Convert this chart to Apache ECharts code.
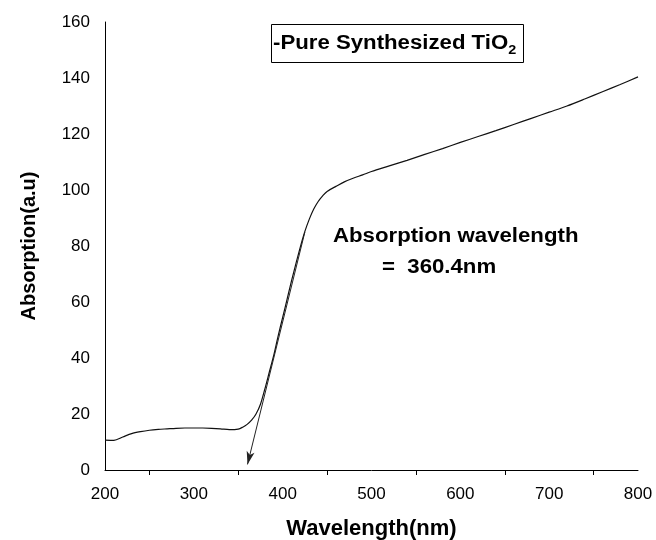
<!DOCTYPE html>
<html>
<head>
<meta charset="utf-8">
<script src="https://cdn.jsdelivr.net/npm/echarts@6/dist/echarts.min.js"></script>
<style>
  html, body { margin: 0; padding: 0; background: #fff; }
  #chart { width: 656px; height: 540px; }
</style>
</head>
<body>
<div id="chart"></div>
<script>
// wavelength (nm) and absorption (a.u.)
const wavelengths = [200, 210, 220, 230, 240, 250, 260, 270, 280, 290, 300, 310, 320, 330, 340, 350,
  355, 360, 365, 370, 375, 380, 385, 390, 395, 400, 405, 410, 415, 420, 425, 430, 435, 440, 445, 450,
  460, 470, 480, 490, 500, 520, 540, 560, 580, 600, 620, 640, 660, 680, 700, 720, 740, 760, 780, 800];
const absorption = [10.7, 10.6, 11.8, 13.0, 13.7, 14.2, 14.5, 14.7, 14.9, 15.0, 15.0, 15.0, 14.9, 14.7, 14.4, 14.6,
  15.3, 16.3, 17.8, 20.0, 23.5, 29.0, 35.0, 41.0, 48.0, 54.5, 61.0, 67.6, 73.8, 79.8, 85.2, 89.6, 93.2, 95.9, 97.9, 99.5,
  101.3, 103.0, 104.3, 105.4, 106.6, 108.6, 110.6, 112.7, 114.8, 117.0, 119.1, 121.2, 123.4, 125.6, 127.8, 130.0, 132.5, 135.1, 137.7, 140.4];

const xLabelValues = [200, 300, 400, 500, 600, 700, 800];
const xTickValues = [250, 350, 450, 550, 650, 750];

// tangent used to read the absorption edge
const tangentStart = [425, 85];
const tangentEnd = [360.4, 2];

const font = 'Liberation Sans, Arial, sans-serif';
const stretch = 1.11; // the original lettering is a bit wide

const chart = echarts.init(document.getElementById('chart'));

const option = {
  backgroundColor: '#fff',
  animation: false,
  grid: { left: 105, right: 18, top: 22, bottom: 70, outerBoundsMode: 'none' },
  xAxis: {
    type: 'value',
    min: 200,
    max: 800,
    interval: 100,
    name: 'Wavelength(nm)',
    nameLocation: 'middle',
    nameGap: 48,
    nameTextStyle: { fontFamily: font, fontSize: 22, fontWeight: 'bold', color: '#000' },
    axisLine: { lineStyle: { color: '#000', width: 1 } },
    axisTick: { show: true, length: 5, customValues: xTickValues, lineStyle: { color: '#000' } },
    axisLabel: { customValues: xLabelValues, margin: 16, fontFamily: font, fontSize: 17, color: '#000' },
    splitLine: { show: false }
  },
  yAxis: {
    type: 'value',
    min: 0,
    max: 160,
    interval: 20,
    name: 'Absorption(a.u)',
    nameLocation: 'middle',
    nameGap: 66,
    nameTextStyle: { fontFamily: font, fontSize: 20, fontWeight: 'bold', color: '#000' },
    axisLine: { show: true, lineStyle: { color: '#000', width: 1 } },
    axisTick: { show: false },
    axisLabel: { margin: 15, fontFamily: font, fontSize: 17, color: '#000' },
    splitLine: { show: false }
  },
  graphic: [
    {
      type: 'rect',
      shape: { x: 271.5, y: 24.5, width: 252, height: 38 },
      style: { fill: '#fff', stroke: '#000', lineWidth: 1 }
    },
    {
      type: 'text',
      x: 273,
      y: 29,
      scaleX: stretch,
      style: {
        text: '{a|-Pure Synthesized TiO}{s|2}',
        rich: {
          a: { fontFamily: font, fontSize: 20, fontWeight: 'bold', fill: '#000', lineHeight: 28, verticalAlign: 'middle' },
          s: { fontFamily: font, fontSize: 13, fontWeight: 'bold', fill: '#000', lineHeight: 12, verticalAlign: 'bottom' }
        }
      }
    },
    {
      type: 'text',
      x: 333,
      y: 226,
      scaleX: stretch,
      style: { text: 'Absorption wavelength', font: 'bold 20px ' + font, fill: '#000' }
    },
    {
      type: 'text',
      x: 382,
      y: 257,
      scaleX: stretch,
      style: { text: '=  360.4nm', font: 'bold 20px ' + font, fill: '#000' }
    }
  ],
  series: [
    {
      type: 'line',
      data: wavelengths.map((w, i) => [w, absorption[i]]),
      showSymbol: false,
      smooth: 0.3,
      lineStyle: { color: '#111', width: 1.2 },
      markLine: {
        silent: true,
        symbol: ['none', 'arrow'],
        symbolSize: [6, 13],
        label: { show: false },
        lineStyle: { color: '#222', width: 1, type: 'solid' },
        data: [[{ coord: tangentStart }, { coord: tangentEnd }]]
      }
    }
  ]
};

chart.setOption(option);
window.addEventListener('resize', () => chart.resize());
</script>
</body>
</html>
